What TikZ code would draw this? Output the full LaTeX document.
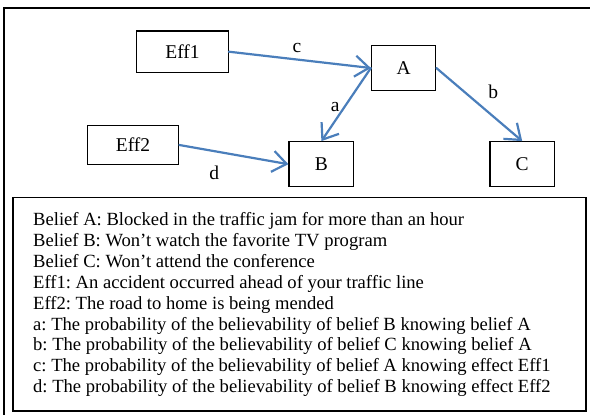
\documentclass[tikz,border=0pt]{standalone}
\usepackage{fontspec}
\setmainfont{Liberation Serif}
\frenchspacing
\usetikzlibrary{arrows.meta}
\definecolor{arrowblue}{HTML}{4A7EBB}
\tikzset{
  box/.style={draw=black, line width=1.2pt, inner sep=0pt, font=\fontsize{19.5}{22}\selectfont},
  link/.style={draw=arrowblue, line width=2.2pt, line cap=round,
    -{Straight Barb[length=14pt,width=21pt,line width=2.2pt]}},
  elabel/.style={font=\fontsize{19.5}{22}\selectfont, inner sep=0pt}
}
\begin{document}
\begin{tikzpicture}[x=1pt,y=-1pt]
\useasboundingbox (0,0) rectangle (590,415);
\draw[line width=2pt] (4.3,8) rectangle (600,430);
\node[box, minimum width=91.5pt, minimum height=41.3pt] (eff1) at (182.5,51.7) {Eff1};
\node[box, minimum width=64.3pt, minimum height=45.4pt] (A) at (403.6,68) {A};
\node[box, minimum width=91.5pt, minimum height=39.4pt] (eff2) at (133,145) {Eff2};
\node[box, minimum width=64.8pt, minimum height=45pt] (B) at (321.4,164.2) {B};
\node[box, minimum width=64.4pt, minimum height=45pt] (C) at (522.2,164.2) {C};
\draw[link] (eff1.east) -- node[elabel, pos=0.48, yshift=11.6pt] {c} (A.west);
\draw[link] (A.west) -- node[elabel, pos=0.54, xshift=-9pt] {a} (B.north);
\draw[link] (A.east) -- node[elabel, pos=0.326, xshift=29pt] {b} (C.north);
\draw[link] (eff2.east) -- node[elabel, pos=0.32, yshift=-22pt] {d} (B.west);
\draw[line width=1.2pt] (13,197.5) rectangle (586,411);
\node[anchor=north west, inner sep=0pt, align=left, font=\fontsize{18.6}{20.9}\selectfont] (legend) at (33,212.3) {%
Belief A: Blocked in the traffic jam for more than an hour\\
Belief B: Won’t watch the favorite TV program\\
Belief C: Won’t attend the conference\\
Eff1: An accident occurred ahead of your traffic line\\
Eff2: The road to home is being mended\\
a: The probability of the believability of belief B knowing belief A\\
b: The probability of the believability of belief C knowing belief A\\
c: The probability of the believability of belief A knowing effect Eff1\\
d: The probability of the believability of belief B knowing effect Eff2};
\end{tikzpicture}
\end{document}
